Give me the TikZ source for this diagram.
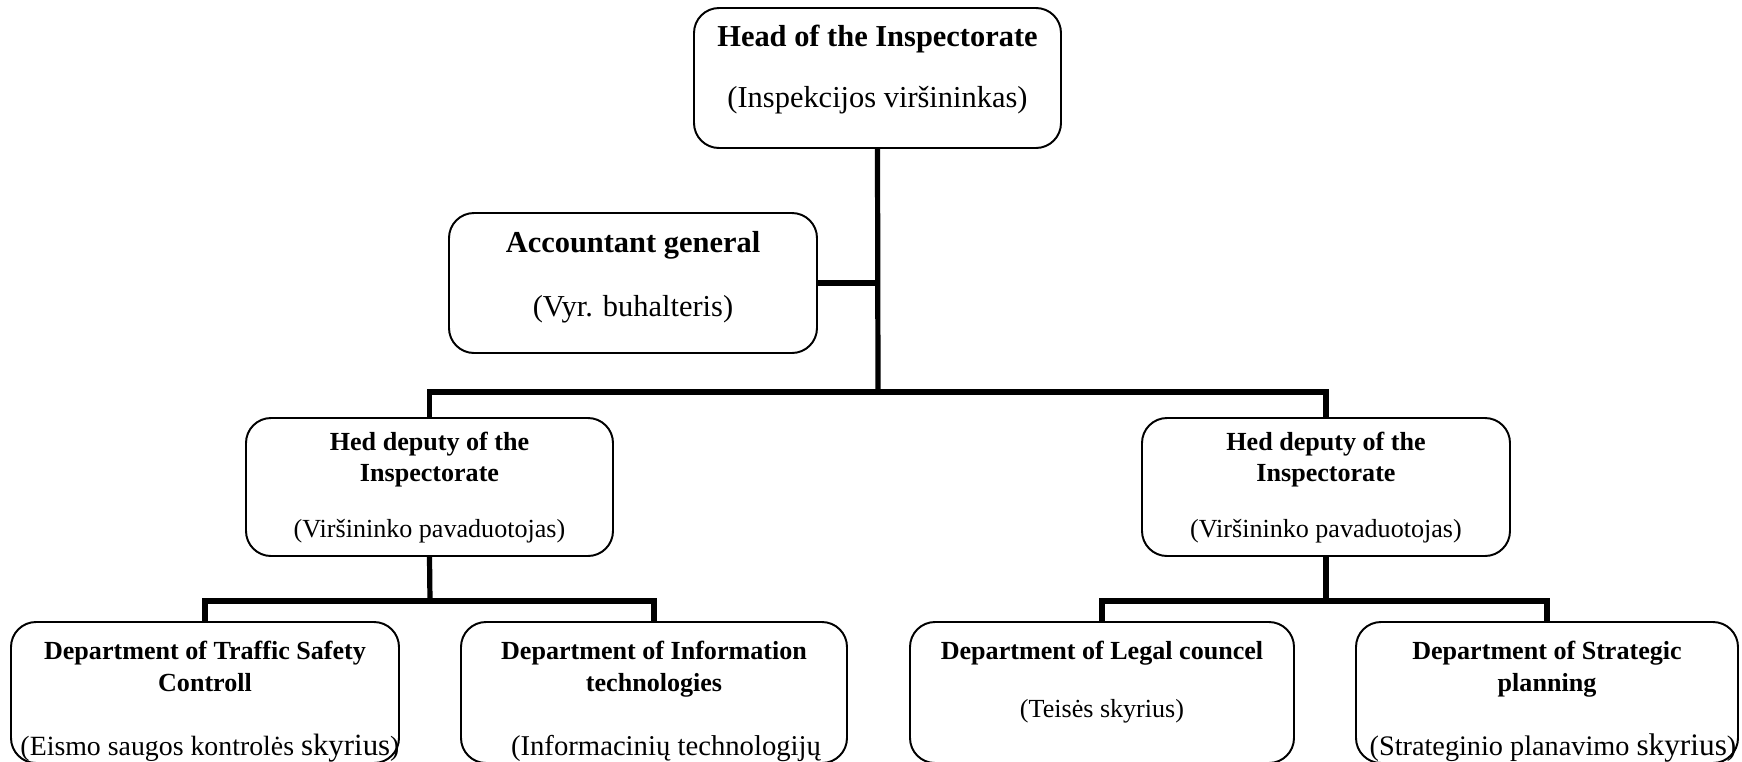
\documentclass[tikz,border=0pt]{standalone}
\usepackage{fontspec}
\setmainfont{Liberation Serif}
\begin{document}
\begin{tikzpicture}[x=0.46pt,y=-0.46pt,
  bx/.style 2 args={draw, rectangle, rounded corners=11.5pt, line width=0.9pt, fill=white,
    minimum width=#1*0.46pt, minimum height=#2*0.46pt, inner sep=0pt},
  conn/.style={line width=2.4pt},
  nt/.style={inner sep=0pt, anchor=base, font=\fontsize{12}{14}\selectfont},
  bt/.style={nt, font=\fontsize{12}{14}\selectfont\bfseries},
  lt/.style={nt, font=\fontsize{13.2}{15}\selectfont},
  nth/.style={inner sep=0pt, anchor=base, font=\fontsize{14}{16}\selectfont},
  bth/.style={nth, font=\fontsize{14}{16}\selectfont\bfseries}]
\useasboundingbox (0,0) rectangle (1742,761);
\clip (0,0) rectangle (1742,761);
% junction points
\coordinate (j1) at (878,392);
\coordinate (j2) at (430,601);
\coordinate (j3) at (1326,601);
% boxes
\node[bx={367}{140}] (head) at (877.5,78) {};
\node[bx={368}{140}] (acc) at (633,283) {};
\node[bx={367}{138}] (dl) at (429.5,487) {};
\node[bx={368}{138}] (dr) at (1326,487) {};
\node[bx={388}{141}] (b1) at (205,692.5) {};
\node[bx={386}{141}] (b2) at (654,692.5) {};
\node[bx={384}{141}] (b3) at (1102,692.5) {};
\node[bx={382}{141}] (b4) at (1547,692.5) {};
% connectors
\draw[conn] (head.south) -- (j1);
\draw[conn] (acc.east) -- (acc.east -| j1);
\draw[conn] (dl.north) |- (j1) -| (dr.north);
\draw[conn] (dl.south) -- (j2);
\draw[conn] (b1.north) |- (j2) -| (b2.north);
\draw[conn] (dr.south) -- (j3);
\draw[conn] (b3.north) |- (j3) -| (b4.north);
% texts
\node[bth] (head1) at (877.5,46) {Head of the Inspectorate};
\node[nth] (head2) at (877.5,107) {(Inspekcijos viršininkas)};
\node[bth] (acc1) at (633,252) {Accountant general};
\node[nth] (acc2) at (633,316) {(Vyr. buhalteris)};
\node[bt] (dl1) at (429.5,450) {Hed deputy of the};
\node[bt] (dl2) at (429.5,481) {Inspectorate};
\node[nt] (dl3) at (429.5,537) {(Viršininko pavaduotojas)};
\node[bt] (dr1) at (1326,450) {Hed deputy of the};
\node[bt] (dr2) at (1326,481) {Inspectorate};
\node[nt] (dr3) at (1326,537) {(Viršininko pavaduotojas)};
\node[bt] (b1a) at (205,659) {Department of Traffic Safety};
\node[bt] (b1b) at (205,691) {Controll};
\node[nt, font=\fontsize{12.8}{15}\selectfont] (b1c) at (210,755) {(Eismo saugos kontrolės {\fontsize{14.2}{16}\selectfont skyrius})};
\node[bt] (b2a) at (654,659) {Department of Information};
\node[bt] (b2b) at (654,691) {technologies};
\node[lt] (b2c) at (666,755) {(Informacinių technologijų};
\node[bt] (b3a) at (1102,659) {Department of Legal councel};
\node[nt] (b3b) at (1102,717) {(Teisės skyrius)};
\node[bt] (b4a) at (1547,659) {Department of Strategic};
\node[bt] (b4b) at (1547,691) {planning};
\node[nt, font=\fontsize{13}{15}\selectfont] (b4c) at (1553,755) {(Strateginio planavimo {\fontsize{14.4}{16}\selectfont skyrius})};
\end{tikzpicture}
\end{document}
